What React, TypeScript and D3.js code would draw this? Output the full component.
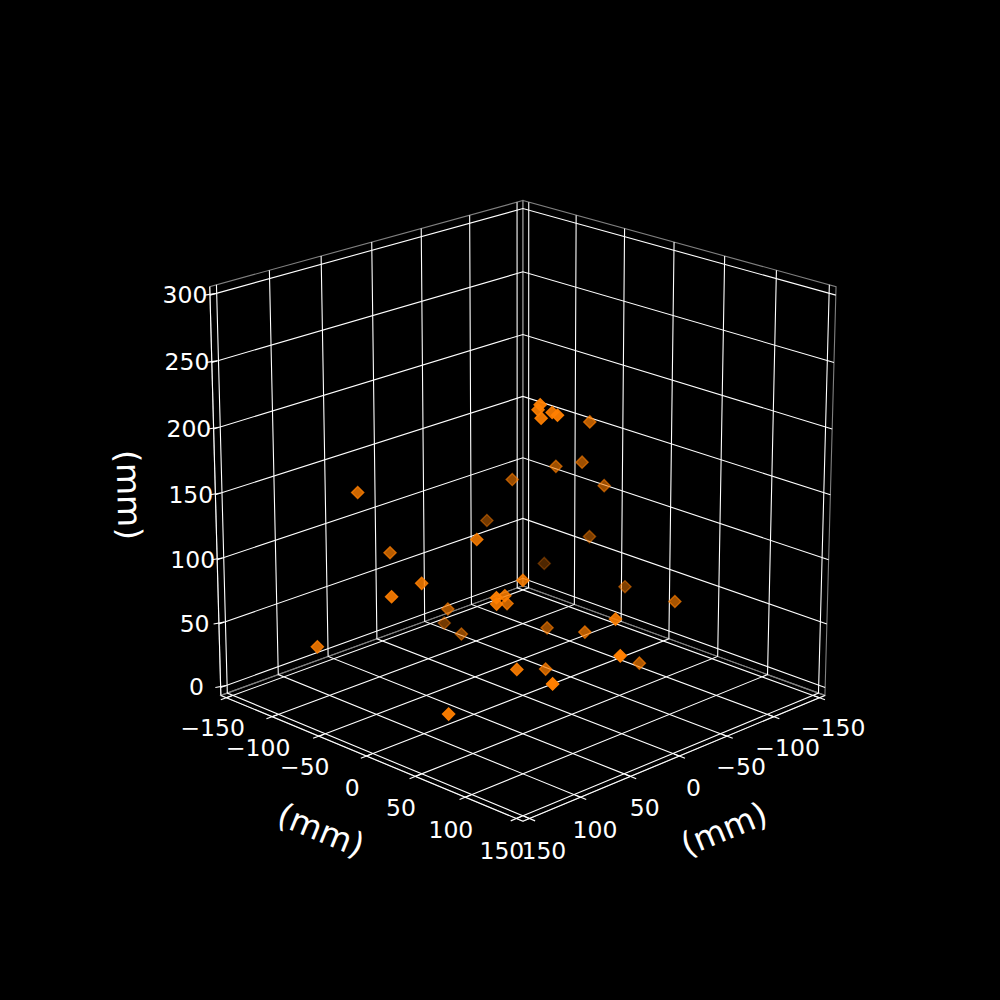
import * as d3 from "d3";

const xValues = [41,29,34,22,34,-47,-50,-64,-77,-31,-52,67,-95,-117,51,-99,-79,105,78,102,133,165,39,-11,9,95,82,63,44,-23,-8,20,58,-41,83,27,96,138];
const yValues = [58,44,52,51,68,21,-16,-3,7,-42,-90,21,-25,-94,51,8,77,-61,-57,1,3,-40,-38,-94,-55,69,56,45,28,2,55,112,153,78,77,50,125,65];
const zValues = [242,232,229,230,235,199,155,158,139,143,93,139,86,40,112,54,67,163,111,110,109,68,62,21,29,116,104,102,86,41,57,91,86,30,61,37,68,40];
const horizTicks = [-150,-100,-50,0,50,100,150];
const zTicks = [0,50,100,150,200,250,300];
const axisLabel = "(mm)";

const WHITE = "#ffffff";
const ORANGE = "#ff7f00";
const FONT = "DejaVu Sans";

// same camera as a matplotlib 3d axes: elev 20, azim 45, dist 10
const elev = (20 * Math.PI) / 180;
const azim = (45 * Math.PI) / 180;
const dist = 10;
const boxSide = 1.05624;
const margin = 6.25;
const scaleXY = 4117;
const centerX = 522.9;
const centerY = 494.7;

const xScale = d3.scaleLinear().domain([-150 - margin, 150 + margin]).range([-boxSide / 2, boxSide / 2]);
const yScale = d3.scaleLinear().domain([-150 - margin, 150 + margin]).range([-boxSide / 2, boxSide / 2]);
const zScale = d3.scaleLinear().domain([0 - margin, 300 + margin]).range([-boxSide / 2, boxSide / 2]);

const se = Math.sin(elev);
const ce = Math.cos(elev);
const sa = Math.sin(azim);
const ca = Math.cos(azim);

function depth(x: number, y: number, z: number) {
	return ce * ca * xScale(x) + ce * sa * yScale(y) + se * zScale(z);
}

function project(x: number, y: number, z: number): [number, number] {
	const px = xScale(x);
	const py = yScale(y);
	const pz = zScale(z);
	const right = -sa * px + ca * py;
	const up = -se * ca * px - se * sa * py + ce * pz;
	const k = dist - depth(x, y, z);
	return [centerX + (scaleXY * right) / k, centerY - (scaleXY * up) / k];
}

const xMin = -156.25;
const xMax = 156.25;
const yMin = -156.25;
const yMax = 156.25;
const zMin = -6.25;
const zMax = 306.25;

const line3d = (pts: [number, number, number][]) =>
	d3.line()(pts.map((p) => project(p[0], p[1], p[2])))!;

const panes: [number, number, number][][] = [
	[[xMin, yMin, zMin], [xMax, yMin, zMin], [xMax, yMin, zMax], [xMin, yMin, zMax], [xMin, yMin, zMin]],
	[[xMin, yMin, zMin], [xMin, yMax, zMin], [xMin, yMax, zMax], [xMin, yMin, zMax], [xMin, yMin, zMin]],
	[[xMin, yMin, zMin], [xMax, yMin, zMin], [xMax, yMax, zMin], [xMin, yMax, zMin], [xMin, yMin, zMin]],
];

const tickOut = 5.5;
const tickIn = 5;
const labelOut = 14;
const labelDown = 20;
const zLabelOut = 12.5;

const diamond = d3.symbol().type(d3.symbolSquare).size(74)()!;

function App() {
	const points = xValues
		.map((x, i) => ({ x, y: yValues[i], z: zValues[i], d: depth(x, yValues[i], zValues[i]) }))
		.sort((a, b) => a.d - b.d);
	const alpha = d3
		.scaleLinear()
		.domain(d3.extent(points, (p) => p.d) as [number, number])
		.range([0.3, 1]);

	const xLabelPos = project(104, 156.25 + 50, -6.25 - 70);
	const yLabelPos = project(156.25 + 50, 104, -6.25 - 70);

	return (
		<svg
			width={1000}
			height={1000}
			style={{ position: "absolute", left: 0, top: 0, background: "#000" }}
			fontFamily={FONT}
		>
			<rect width={1000} height={1000} fill="#000" />
			<g fill="none" stroke="#808080" strokeWidth={1.1}>
				{panes.map((p, i) => (
					<path key={i} d={line3d(p)} />
				))}
			</g>
			<g fill="none" stroke={WHITE} strokeWidth={1.1}>
				{horizTicks.map((t) => (
					<path key={`gx${t}`} d={line3d([[t, yMax, zMin], [t, yMin, zMin], [t, yMin, zMax]])} />
				))}
				{horizTicks.map((t) => (
					<path key={`gy${t}`} d={line3d([[xMax, t, zMin], [xMin, t, zMin], [xMin, t, zMax]])} />
				))}
				{zTicks.map((t) => (
					<path key={`gz${t}`} d={line3d([[xMax, yMin, t], [xMin, yMin, t], [xMin, yMax, t]])} />
				))}
				<path d={line3d([[xMin, yMax, zMin], [xMax, yMax, zMin]])} />
				<path d={line3d([[xMax, yMin, zMin], [xMax, yMax, zMin]])} />
				<path d={line3d([[xMax, yMin, zMin], [xMax, yMin, zMax]])} />
				{horizTicks.map((t) => (
					<path key={`tx${t}`} d={line3d([[t, yMax - tickIn, zMin], [t, yMax + tickOut, zMin]])} />
				))}
				{horizTicks.map((t) => (
					<path key={`ty${t}`} d={line3d([[xMax - tickIn, t, zMin], [xMax + tickOut, t, zMin]])} />
				))}
				{zTicks.map((t) => (
					<path key={`tz${t}`} d={line3d([[xMax + tickOut / 2, yMin - tickOut / 2, t], [xMax - tickIn, yMin, t]])} />
				))}
			</g>
			<g>
				{points.map((p, i) => {
					const [sx, sy] = project(p.x, p.y, p.z);
					const a = alpha(p.d);
					return (
						<path
							key={i}
							d={diamond}
							transform={`translate(${sx},${sy}) rotate(45)`}
							fill={ORANGE}
							fillOpacity={a}
							stroke={ORANGE}
							strokeOpacity={a}
							strokeWidth={1.4}
						/>
					);
				})}
			</g>
			<g fill={WHITE} fontSize={23.5} textAnchor="middle" dominantBaseline="central">
				{horizTicks.map((t) => {
					const [sx, sy] = project(t, yMax + labelOut, zMin - labelDown);
					return (
						<text key={`lx${t}`} x={sx} y={sy}>
							{t < 0 ? `\u2212${-t}` : t}
						</text>
					);
				})}
				{horizTicks.map((t) => {
					const [sx, sy] = project(xMax + labelOut, t, zMin - labelDown);
					return (
						<text key={`ly${t}`} x={sx} y={sy}>
							{t < 0 ? `\u2212${-t}` : t}
						</text>
					);
				})}
				{zTicks.map((t) => {
					const [sx, sy] = project(xMax + zLabelOut, yMin - zLabelOut, t);
					return (
						<text key={`lz${t}`} x={sx} y={sy}>
							{t}
						</text>
					);
				})}
			</g>
			<g fill={WHITE} fontSize={33} textAnchor="middle" dominantBaseline="central">
				<text transform="translate(724,829) rotate(-22.3)">{axisLabel}</text>
				<text transform="translate(321,830) rotate(22.3)">{axisLabel}</text>
				<text transform="translate(129,495) rotate(88.5)">{axisLabel}</text>
			</g>
		</svg>
	);
}

export default App;
